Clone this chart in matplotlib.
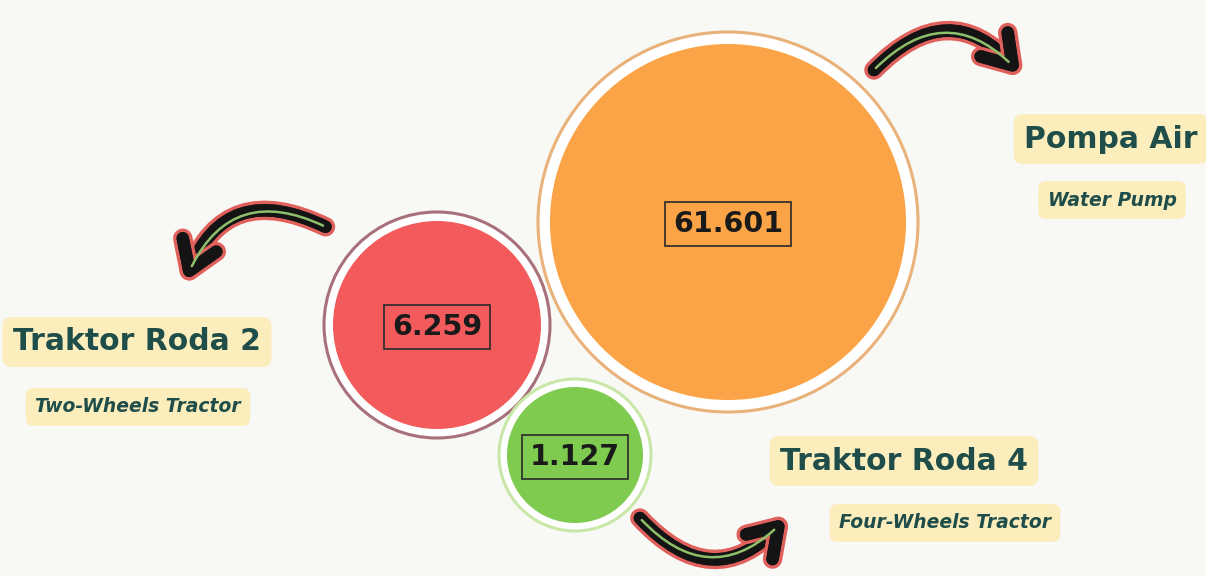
import matplotlib.pyplot as plt
import matplotlib.patheffects as pe
from matplotlib.patches import Circle, FancyArrowPatch

# data
labels = ["Pompa Air", "Traktor Roda 2", "Traktor Roda 4"]
sublabels = ["Water Pump", "Two-Wheels Tractor", "Four-Wheels Tractor"]
values = [61.601, 6.259, 1.127]

# layout (pixel coordinates, y down)
centers = [(728, 222), (437, 325), (575, 455)]
radii = [178, 104, 68]
ring_r = [190, 113, 76]
fills = ["#fba447", "#f25a5c", "#7ecb4f"]
rings = ["#e9b27a", "#a8707a", "#c9e7a6"]
label_pos = [(1111, 139), (137, 342), (904, 461)]
sub_pos = [(1112, 200), (138, 407), (945, 523)]
arrows = [((872, 72), (1022, 76), -0.55),
          ((328, 228), (184, 284), 0.55),
          ((638, 516), (788, 516), 0.55)]

bg = "#f8f8f5"
teal = "#1f4e4a"
box = "#fcedbd"
font = "DejaVu Sans"

fig = plt.figure(figsize=(12.06, 5.76), dpi=100)
fig.patch.set_facecolor(bg)
ax = fig.add_axes([0, 0, 1, 1])
ax.set_facecolor(bg)
ax.set_xlim(0, 1206)
ax.set_ylim(576, 0)
ax.set_aspect("equal")
ax.axis("off")

for (cx, cy), r, rr, fc, ec, v in zip(centers, radii, ring_r, fills, rings, values):
    ax.add_patch(Circle((cx, cy), rr, facecolor="white", edgecolor=ec, lw=2.2, zorder=2))
    ax.add_patch(Circle((cx, cy), r, facecolor=fc, edgecolor="none", zorder=3))
    ax.text(cx, cy + 2, f"{v:.3f}", ha="center", va="center", fontsize=20.5,
            fontweight="bold", family=font, color="#1a1a1a", zorder=4,
            bbox=dict(boxstyle="square,pad=0.28", facecolor=fc, edgecolor="#2a2a2a", lw=1.2))

for (x, y), t in zip(label_pos, labels):
    ax.text(x, y, t, ha="center", va="center", fontsize=21.5, fontweight="bold",
            family=font, color=teal, zorder=4,
            bbox=dict(boxstyle="round,pad=0.35,rounding_size=0.3", facecolor=box, edgecolor="none"))

for (x, y), t in zip(sub_pos, sublabels):
    ax.text(x, y, t, ha="center", va="center", fontsize=13.5, fontweight="bold",
            style="italic", family=font, color=teal, zorder=4,
            bbox=dict(boxstyle="round,pad=0.5,rounding_size=0.4", facecolor=box, edgecolor="none"))

for start, end, rad in arrows:
    a = FancyArrowPatch(start, end, connectionstyle=f"arc3,rad={rad}",
                        arrowstyle="->,head_length=20,head_width=13",
                        color="#141414", lw=9, zorder=5, mutation_scale=1,
                        capstyle="round", joinstyle="round",
                        path_effects=[pe.withStroke(linewidth=14, foreground="#e0605c"),
                                      pe.Normal()])
    ax.add_patch(a)
    g = FancyArrowPatch(start, end, connectionstyle=f"arc3,rad={rad}",
                        arrowstyle="-", color="#8fbf6a", lw=1.8, zorder=6,
                        shrinkA=4, shrinkB=14)
    ax.add_patch(g)

fig.savefig("out.png", dpi=100, facecolor=bg)
